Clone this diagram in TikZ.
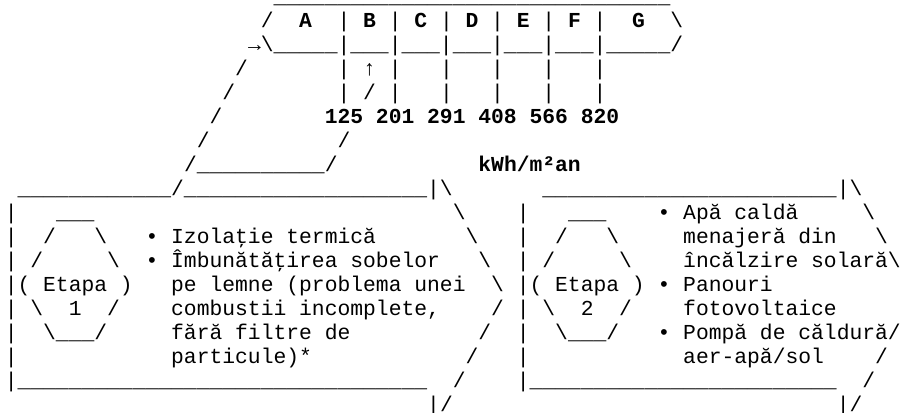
\documentclass[tikz,border=0pt]{standalone}
\usepackage{fontspec}
\setmonofont{Liberation Mono}
\newcommand\us[1]{\foreach\k in {1,...,#1}{\_}}
\newcommand\obl{\textbackslash}

\begin{document}
\begin{tikzpicture}[x=12.8pt,y=-24pt]
\tikzset{ascii/.style={anchor=base west, inner sep=0pt, outer sep=0pt, font=\frenchspacing\ttfamily\fontsize{21.33pt}{24pt}\selectfont}}
\tikzset{gras/.style={ascii, font=\frenchspacing\ttfamily\bfseries\fontsize{21.33pt}{24pt}\selectfont}}
\useasboundingbox (-0.375,-0.125) rectangle (70.094,17.042);
\node[ascii] (haut) at (21,0) {\us{31}};
\node[ascii] (hg) at (20,1) {/};
\node[gras] (cA) at (23,1) {A};
\node[ascii] (cBF) at (26,1) {| \textbf{B} | \textbf{C} | \textbf{D} | \textbf{E} | \textbf{F} |};
\node[gras] (cG) at (49,1) {G};
\node[ascii] (hd) at (52,1) {\obl};
\node[ascii] (bas) at (19,2) {→\obl\us{5}|\us{3}|\us{3}|\us{3}|\us{3}|\us{3}|\us{5}/};
\node[ascii] (d3) at (18,3) {/};
\node[ascii] (s3a) at (26,3) {| ↑ |};
\node[ascii] (s3b) at (34,3) {|};
\node[ascii] (s3c) at (38,3) {|};
\node[ascii] (s3d) at (42,3) {|};
\node[ascii] (s3e) at (46,3) {|};
\node[ascii] (d4) at (17,4) {/};
\node[ascii] (s4a) at (26,4) {| / |};
\node[ascii] (s4b) at (34,4) {|};
\node[ascii] (s4c) at (38,4) {|};
\node[ascii] (s4d) at (42,4) {|};
\node[ascii] (s4e) at (46,4) {|};
\node[ascii] (d5) at (16,5) {/};
\node[gras] (seuils) at (25,5) {125 201 291 408 566 820};
\node[ascii] (d6) at (15,6) {/};
\node[ascii] (d6b) at (26,6) {/};
\node[ascii] (d7) at (14,7) {/\us{10}/};
\node[gras] (unite) at (37,7) {kWh/m²an};
\node[ascii] (e1haut) at (1,8) {\us{12}/\us{19}|\obl};
\node[ascii] (e2haut) at (42,8) {\us{23}|\obl};
\node[ascii] (b9) at (0,9) {|};
\node[ascii] (h1a) at (4,9) {\us{3}};
\node[ascii] (p9) at (35,9) {\obl};
\node[ascii] (b9r) at (40,9) {|};
\node[ascii] (h2a) at (44,9) {\us{3}};
\node[ascii] (apa) at (51,9) {• Apă caldă};
\node[ascii] (p9r) at (67,9) {\obl};
\node[ascii] (b10) at (0,10) {|};
\node[ascii] (h1b) at (3,10) {/};
\node[ascii] (h1c) at (7,10) {\obl};
\node[ascii] (izol) at (11,10) {• Izolaţie termică};
\node[ascii] (p10) at (36,10) {\obl};
\node[ascii] (b10r) at (40,10) {|};
\node[ascii] (h2b) at (43,10) {/};
\node[ascii] (h2c) at (47,10) {\obl};
\node[ascii] (menaj) at (53,10) {menajeră din};
\node[ascii] (p10r) at (68,10) {\obl};
\node[ascii] (b11) at (0,11) {|};
\node[ascii] (h1d) at (2,11) {/};
\node[ascii] (h1e) at (8,11) {\obl};
\node[ascii] (sobe) at (11,11) {• Îmbunătăţirea sobelor};
\node[ascii] (p11) at (37,11) {\obl};
\node[ascii] (b11r) at (40,11) {|};
\node[ascii] (h2d) at (42,11) {/};
\node[ascii] (h2e) at (48,11) {\obl};
\node[ascii] (solar) at (53,11) {încălzire solară\obl};
\node[ascii] (etapa1) at (0,12) {|( Etapa )};
\node[ascii] (lemne) at (13,12) {pe lemne (problema unei};
\node[ascii] (p12) at (38,12) {\obl};
\node[ascii] (etapa2) at (40,12) {|( Etapa )};
\node[ascii] (panou) at (51,12) {• Panouri};
\node[ascii] (b13) at (0,13) {|};
\node[ascii] (h1f) at (2,13) {\obl};
\node[ascii] (n1) at (5,13) {1};
\node[ascii] (h1g) at (8,13) {/};
\node[ascii] (comb) at (13,13) {combustii incomplete,};
\node[ascii] (p13) at (38,13) {/};
\node[ascii] (b13r) at (40,13) {|};
\node[ascii] (h2f) at (42,13) {\obl};
\node[ascii] (n2) at (45,13) {2};
\node[ascii] (h2g) at (48,13) {/};
\node[ascii] (foto) at (53,13) {fotovoltaice};
\node[ascii] (b14) at (0,14) {|};
\node[ascii] (h1h) at (3,14) {\obl\us{3}/};
\node[ascii] (filtre) at (13,14) {fără filtre de};
\node[ascii] (p14) at (37,14) {/};
\node[ascii] (b14r) at (40,14) {|};
\node[ascii] (h2h) at (43,14) {\obl\us{3}/};
\node[ascii] (pompa) at (51,14) {• Pompă de căldură/};
\node[ascii] (b15) at (0,15) {|};
\node[ascii] (part) at (13,15) {particule)*};
\node[ascii] (p15) at (36,15) {/};
\node[ascii] (b15r) at (40,15) {|};
\node[ascii] (aer) at (53,15) {aer-apă/sol};
\node[ascii] (p15r) at (68,15) {/};
\node[ascii] (e1bas) at (0,16) {|\us{32}};
\node[ascii] (p16) at (35,16) {/};
\node[ascii] (e2bas) at (40,16) {|\us{24}};
\node[ascii] (p16r) at (67,16) {/};
\node[ascii] (pointe1) at (33,17) {|/};
\node[ascii] (pointe2) at (65,17) {|/};
\end{tikzpicture}
\end{document}
